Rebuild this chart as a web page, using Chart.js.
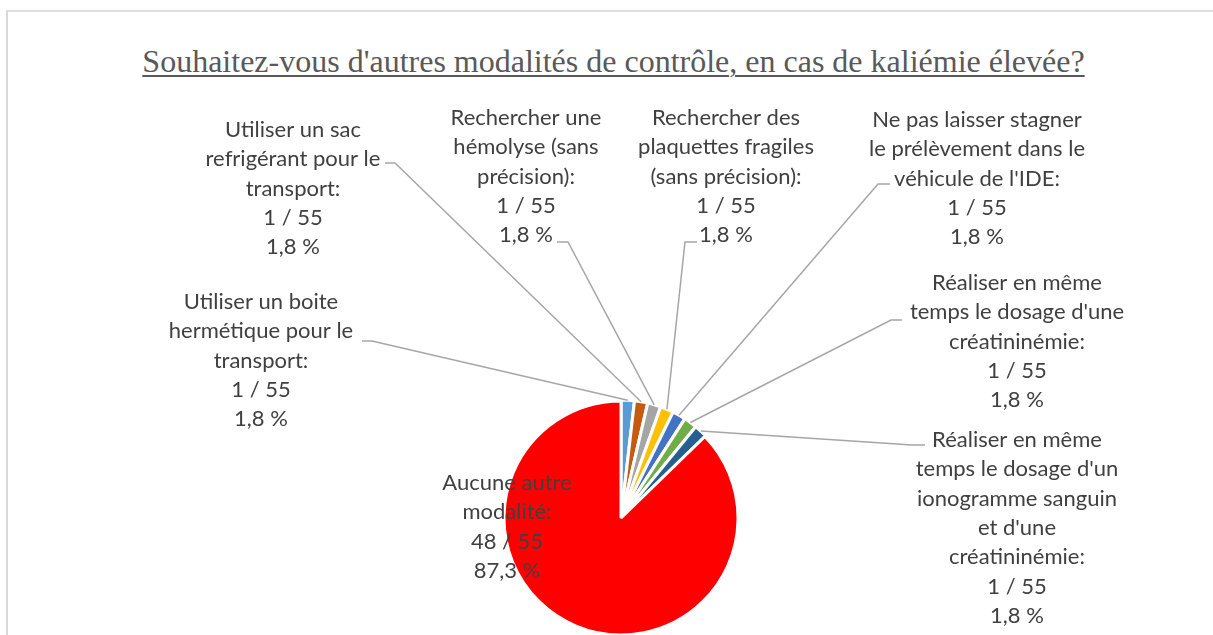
<!DOCTYPE html>
<html>
<head>
<meta charset="utf-8">
<script src="https://cdn.jsdelivr.net/npm/chart.js@4.4.1/dist/chart.umd.min.js"></script>
<style>
  html, body { margin: 0; padding: 0; background: #ffffff; width: 1213px; height: 635px; overflow: hidden; }
  #frame { position: absolute; left: 6px; top: 10px; width: 1400px; height: 800px; border-left: 2px solid #d9d9d9; border-top: 2px solid #dedede; }
  #title { position: absolute; left: 0; top: 41px; width: 1227px; text-align: center; font-family: "Liberation Serif", "Times New Roman", serif; font-size: 32px; color: #595959; text-decoration: underline; text-decoration-thickness: 2px; text-underline-offset: 3px; white-space: nowrap; line-height: 40px; }
  #c { position: absolute; left: 0; top: 0; }
</style>
</head>
<body>
<div id="frame"></div>
<div id="title">Souhaitez-vous d'autres modalités de contrôle, en cas de kaliémie élevée?</div>
<canvas id="c" width="1213" height="635"></canvas>
<script>
// ---- data ----
const categories = [
  "Utiliser un boite hermétique pour le transport",
  "Utiliser un sac refrigérant pour le transport",
  "Rechercher une hémolyse (sans précision)",
  "Rechercher des plaquettes fragiles (sans précision)",
  "Ne pas laisser stagner le prélèvement dans le véhicule de l'IDE",
  "Réaliser en même temps le dosage d'une créatininémie",
  "Réaliser en même temps le dosage d'un ionogramme sanguin et d'une créatininémie",
  "Aucune autre modalité"
];
const values = [1, 1, 1, 1, 1, 1, 1, 48];
const total = 55;
const colors = ["#5B9BD5", "#C55A11", "#A5A5A5", "#FFC000", "#4472C4", "#70AD47", "#255E91", "#FF0000"];
const labelLines = [
  ["Utiliser un boite", "hermétique pour le", "transport:"],
  ["Utiliser un sac", "refrigérant pour le", "transport:"],
  ["Rechercher une", "hémolyse (sans", "précision):"],
  ["Rechercher des", "plaquettes fragiles", "(sans précision):"],
  ["Ne pas laisser stagner", "le prélèvement dans le", "véhicule de l'IDE:"],
  ["Réaliser en même", "temps le dosage d'une", "créatininémie:"],
  ["Réaliser en même", "temps le dosage d'un", "ionogramme sanguin", "et d'une", "créatininémie:"],
  ["Aucune autre", "modalité:"]
];

// ---- layout (label placement only) ----
const labelLayout = [
  { cx: 261, y0: 302, ax: 362, ay: 341, elbow: 10 },
  { cx: 293, y0: 130, ax: 385, ay: 163, elbow: 10 },
  { cx: 526, y0: 118, ax: 557, ay: 242, elbow: 11 },
  { cx: 726, y0: 118, ax: 697, ay: 242, elbow: -12 },
  { cx: 977, y0: 120, ax: 890, ay: 184, elbow: -12 },
  { cx: 1017, y0: 283, ax: 902, ay: 320, elbow: -11 },
  { cx: 1017, y0: 440, ax: 925, ay: 445, elbow: -13 },
  { cx: 507, y0: 483, ax: null }
];
const LINE_H = 29.3;
const LABEL_FONT = '22px Lato, "Open Sans", sans-serif';

function fmtPct(v) { return (v / total * 100).toFixed(1).replace('.', ',') + ' %'; }

const labelPlugin = {
  id: 'pieLabels',
  afterDatasetsDraw(chart) {
    const ctx = chart.ctx;
    const meta = chart.getDatasetMeta(0);
    ctx.save();
    ctx.strokeStyle = '#A6A6A6';
    ctx.lineWidth = 1.5;
    meta.data.forEach((arc, i) => {
      const L = labelLayout[i];
      if (L.ax === null) return;
      const p = arc.getProps(['x', 'y', 'startAngle', 'endAngle', 'outerRadius'], true);
      const off = arc.options.offset || 0;
      const mid = (p.startAngle + p.endAngle) / 2;
      const r = p.outerRadius + off - 1;
      const px = p.x + Math.cos(mid) * r;
      const py = p.y + Math.sin(mid) * r;
      ctx.beginPath();
      ctx.moveTo(L.ax, L.ay);
      ctx.lineTo(L.ax + L.elbow, L.ay);
      ctx.lineTo(px, py);
      ctx.stroke();
    });
    ctx.fillStyle = '#404040';
    ctx.font = LABEL_FONT;
    ctx.textAlign = 'center';
    ctx.textBaseline = 'middle';
    values.forEach((v, i) => {
      const L = labelLayout[i];
      const lines = labelLines[i].concat([v + ' / ' + total, fmtPct(v)]);
      lines.forEach((t, k) => ctx.fillText(t, L.cx, L.y0 + k * LINE_H));
    });
    ctx.restore();
  }
};

new Chart(document.getElementById('c'), {
  type: 'pie',
  data: {
    labels: categories,
    datasets: [{
      data: values,
      backgroundColor: colors,
      borderColor: '#ffffff',
      borderWidth: 3,
      offset: values.map(v => v < 10 ? 2 : 0),
      radius: 117,
      clip: false
    }]
  },
  options: {
    responsive: false,
    devicePixelRatio: 1,
    animation: false,
    layout: { padding: { left: 29, right: 0, top: 401, bottom: 0 } },
    plugins: { legend: { display: false }, tooltip: { enabled: false }, title: { display: false } },
    events: []
  },
  plugins: [labelPlugin]
});
</script>
</body>
</html>
